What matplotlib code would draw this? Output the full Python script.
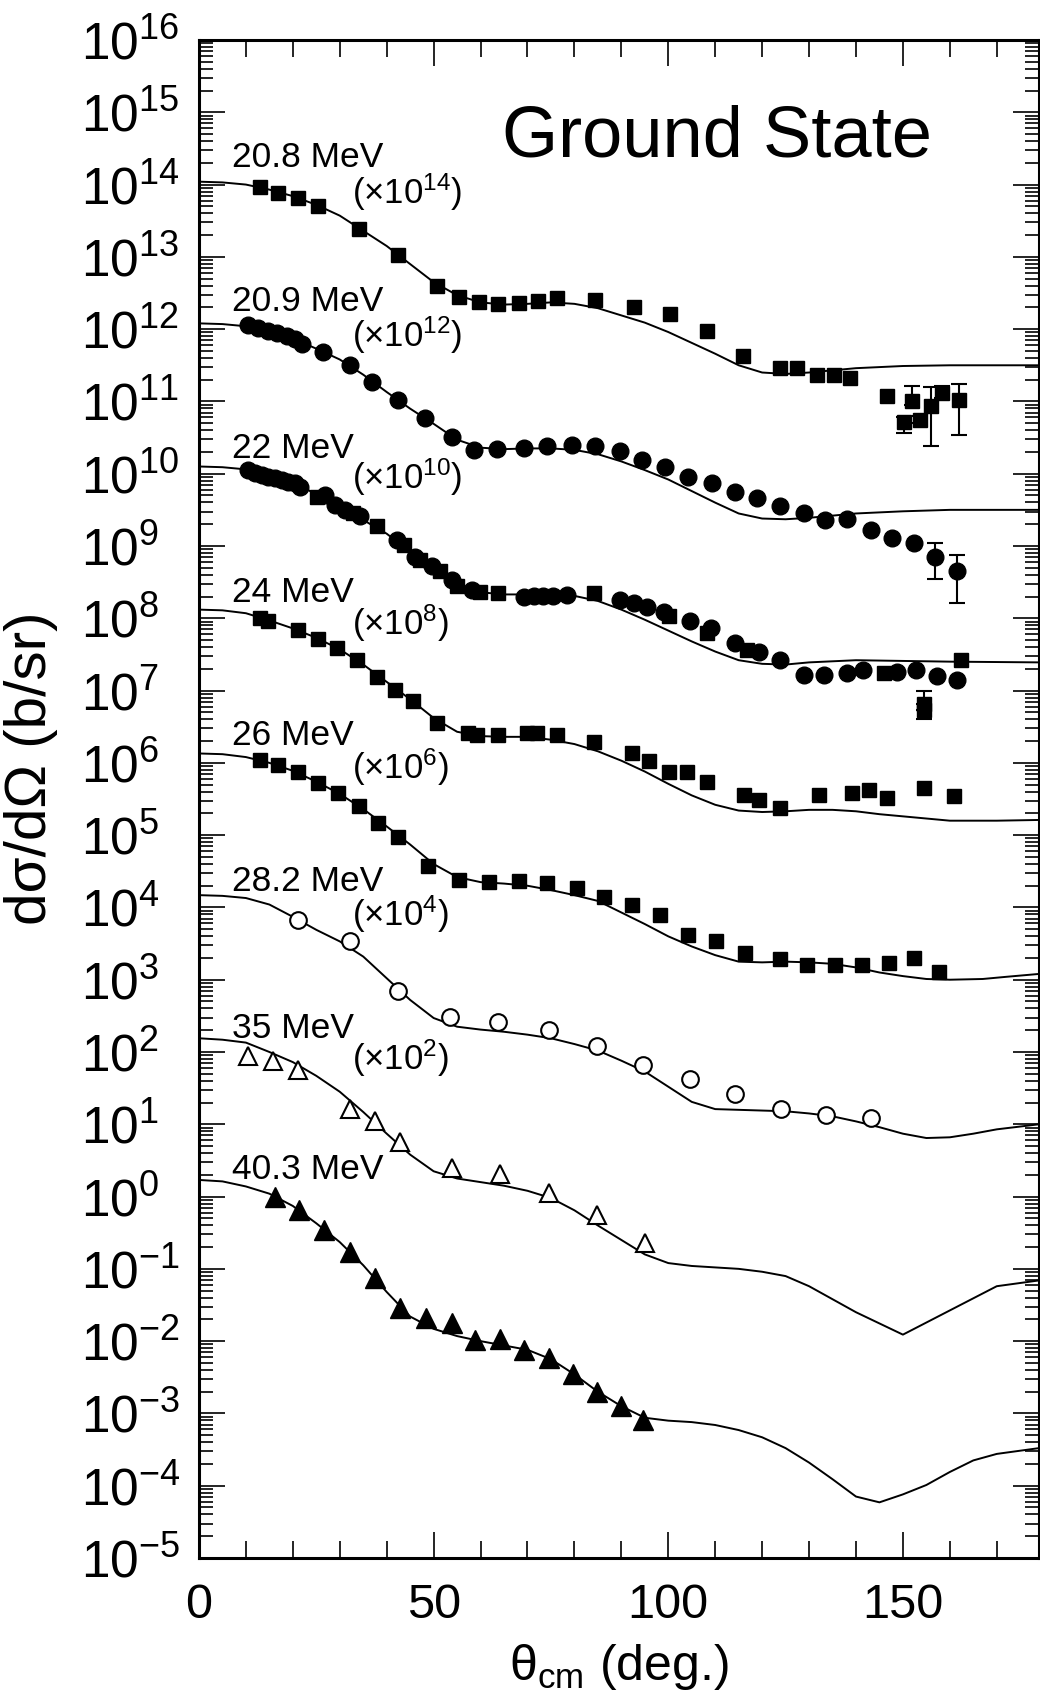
import matplotlib
matplotlib.use('Agg')
import matplotlib.pyplot as plt
import numpy as np
from matplotlib.ticker import FixedLocator, MultipleLocator, NullFormatter

plt.rcParams['font.family'] = ['Liberation Sans', 'DejaVu Sans']
plt.rcParams['mathtext.fontset'] = 'custom'
plt.rcParams['mathtext.rm'] = 'Liberation Sans'
plt.rcParams['mathtext.it'] = 'Liberation Sans:italic'
plt.rcParams['mathtext.bf'] = 'Liberation Sans:bold'

# data: angle (deg) and log10 of scaled cross section

# 20.8 MeV (x1e14), filled squares
a208 = [13.0, 16.9, 21.2, 25.4, 34.0, 42.5, 50.7, 55.3, 59.6, 63.8, 68.1, 72.3, 76.3, 84.4,
        92.6, 100.4, 108.3, 115.9, 123.9, 127.4, 131.7, 135.3, 138.8, 146.6]
v208 = [13.97, 13.89, 13.81, 13.71, 13.39, 13.03, 12.59, 12.45, 12.38, 12.35, 12.36, 12.39, 12.43, 12.40,
        12.31, 12.21, 11.97, 11.63, 11.46, 11.46, 11.37, 11.37, 11.32, 11.07]
# points with error bars at back angles
a208e = [150.2, 152.0, 153.7, 155.9, 158.4, 161.9]
v208e = [10.72, 11.00, 10.74, 10.93, 11.11, 11.02]
lo208e = [10.57, 10.95, 10.70, 10.38, 11.05, 10.53]
hi208e = [10.78, 11.21, 10.80, 11.20, 11.22, 11.24]
ca208 = [0, 5, 10, 15, 20, 25, 30, 35, 40, 45, 50, 55, 60, 65, 70, 75, 80, 85, 90, 95, 100,
         105, 110, 115, 120, 125, 130, 140, 150, 160, 179]
cv208 = [14.04, 14.03, 14.00, 13.93, 13.84, 13.72, 13.57, 13.36, 13.15, 12.90, 12.65, 12.47, 12.37,
         12.34, 12.35, 12.37, 12.35, 12.29, 12.19, 12.09, 11.96, 11.81, 11.66, 11.50, 11.40, 11.38,
         11.40, 11.46, 11.49, 11.50, 11.50]

# 20.9 MeV (x1e12), filled circles
a209 = [10.5, 12.6, 14.8, 16.6, 18.7, 20.5, 21.9, 26.5, 32.2, 36.8, 42.5, 48.2, 53.9, 58.5, 63.5,
        69.2, 74.1, 79.5, 84.4, 89.8, 94.4, 99.4, 104.3, 109.3, 114.3, 119.0, 123.9, 128.9, 133.5,
        138.1, 143.1, 147.7, 152.3]
v209 = [12.06, 12.01, 11.98, 11.94, 11.91, 11.86, 11.80, 11.69, 11.50, 11.27, 11.02, 10.77, 10.51,
        10.33, 10.34, 10.35, 10.38, 10.40, 10.38, 10.31, 10.19, 10.09, 9.96, 9.87, 9.75, 9.66, 9.55,
        9.45, 9.36, 9.38, 9.22, 9.11, 9.04]
a209e = [156.9, 161.6]
v209e = [8.85, 8.65]
lo209e = [8.54, 8.21]
hi209e = [9.04, 8.88]
ca209 = [0, 5, 10, 15, 20, 25, 30, 35, 40, 45, 50, 55, 60, 65, 70, 75, 80, 85, 90, 95, 100,
         105, 110, 115, 120, 125, 130, 140, 150, 160, 179]
cv209 = [12.08, 12.07, 12.04, 11.97, 11.87, 11.73, 11.58, 11.37, 11.13, 10.90, 10.69, 10.47, 10.36,
         10.34, 10.35, 10.35, 10.33, 10.27, 10.17, 10.05, 9.92, 9.76, 9.60, 9.45, 9.38, 9.37,
         9.39, 9.45, 9.48, 9.50, 9.50]

# 22 MeV (x1e10), circles and squares
a22c = [10.5, 11.9, 13.4, 14.8, 16.2, 17.6, 19.0, 20.5, 21.5, 26.9, 29.0, 31.1, 34.3, 42.2, 46.1,
        49.6, 53.9, 58.1, 69.2, 71.3, 73.4, 75.5, 78.4, 89.8, 92.6, 95.5, 99.0, 104.7, 109.0, 114.3,
        119.3, 123.9, 128.9, 133.1, 138.1, 141.6, 148.8, 152.7, 157.3, 161.5]
v22c = [10.05, 10.01, 9.98, 9.96, 9.94, 9.91, 9.89, 9.87, 9.82, 9.71, 9.57, 9.50, 9.41, 9.08, 8.85,
        8.72, 8.53, 8.39, 8.30, 8.31, 8.31, 8.31, 8.32, 8.25, 8.21, 8.16, 8.09, 7.96, 7.86, 7.66,
        7.54, 7.42, 7.21, 7.21, 7.24, 7.29, 7.26, 7.29, 7.20, 7.15]
a22s = [25.1, 32.9, 37.9, 43.6, 47.1, 51.4, 54.9, 59.9, 63.8, 84.1, 100.1, 108.3, 116.8, 145.9, 162.3]
v22s = [9.68, 9.45, 9.27, 9.02, 8.81, 8.65, 8.44, 8.37, 8.35, 8.35, 8.03, 7.79, 7.56, 7.24, 7.42]
a22e = [154.4, 154.4]
v22e = [6.82, 6.73]
lo22e = [6.82, 6.60]
hi22e = [6.99, 6.73]
ca22 = [0, 5, 10, 15, 20, 25, 30, 35, 40, 45, 50, 55, 60, 65, 70, 75, 80, 85, 90, 95, 100,
        105, 110, 115, 120, 125, 130, 140, 150, 160, 179]
cv22 = [10.10, 10.09, 10.06, 9.97, 9.87, 9.72, 9.53, 9.36, 9.17, 8.92, 8.69, 8.45, 8.36, 8.33,
        8.33, 8.33, 8.31, 8.24, 8.12, 7.98, 7.83, 7.68, 7.54, 7.42, 7.37, 7.36, 7.39, 7.42,
        7.41, 7.40, 7.39]

# 24 MeV (x1e8), filled squares
a24 = [13.0, 14.8, 21.2, 25.4, 29.4, 33.6, 37.9, 41.8, 45.7, 50.7, 57.4, 59.2, 63.8, 69.9, 72.0,
       76.3, 84.1, 92.3, 95.8, 100.1, 104.0, 108.3, 116.1, 119.3, 123.9, 132.1, 139.2, 142.7,
       146.6, 154.4, 160.9]
v24 = [8.00, 7.96, 7.84, 7.72, 7.59, 7.42, 7.19, 7.01, 6.85, 6.55, 6.41, 6.39, 6.39, 6.41, 6.41,
       6.39, 6.29, 6.13, 6.02, 5.88, 5.87, 5.74, 5.56, 5.49, 5.37, 5.56, 5.58, 5.63, 5.52, 5.65, 5.54]
ca24 = [0, 5, 10, 15, 20, 25, 30, 35, 40, 45, 50, 55, 60, 65, 70, 75, 80, 85, 90, 95, 100,
        105, 110, 115, 120, 125, 130, 135, 140, 145, 150, 155, 160, 170, 179]
cv24 = [8.12, 8.11, 8.07, 7.97, 7.86, 7.73, 7.57, 7.36, 7.12, 6.88, 6.62, 6.43, 6.37, 6.36, 6.36,
        6.32, 6.26, 6.16, 6.03, 5.88, 5.71, 5.55, 5.42, 5.34, 5.32, 5.33, 5.35, 5.35, 5.33, 5.29,
        5.26, 5.23, 5.20, 5.20, 5.21]

# 26 MeV (x1e6), filled squares
a26 = [13.0, 16.9, 21.2, 25.4, 29.7, 34.0, 38.2, 42.5, 48.9, 55.3, 61.7, 68.1, 74.1, 80.5, 86.2,
       92.3, 98.3, 104.3, 110.2, 116.4, 123.9, 129.6, 135.5, 141.3, 147.0, 152.3, 157.6]
v26 = [6.04, 5.97, 5.88, 5.72, 5.58, 5.40, 5.17, 4.98, 4.57, 4.38, 4.35, 4.36, 4.34, 4.27, 4.15,
       4.04, 3.90, 3.62, 3.54, 3.37, 3.28, 3.21, 3.21, 3.21, 3.23, 3.30, 3.11]
ca26 = [0, 5, 10, 15, 20, 25, 30, 35, 40, 45, 50, 55, 60, 65, 70, 75, 80, 85, 90, 95, 100,
        105, 110, 115, 120, 125, 130, 135, 140, 145, 150, 155, 160, 167, 172, 179]
cv26 = [6.13, 6.12, 6.08, 6.00, 5.89, 5.74, 5.57, 5.36, 5.12, 4.87, 4.60, 4.42, 4.35, 4.33, 4.30,
        4.24, 4.17, 4.09, 3.93, 3.77, 3.60, 3.46, 3.34, 3.25, 3.24, 3.25, 3.24, 3.22, 3.17, 3.10,
        3.05, 3.01, 3.00, 3.01, 3.04, 3.08]

# 28.2 MeV (x1e4), open circles
a282 = [21.2, 32.2, 42.5, 53.5, 63.8, 74.5, 84.8, 94.6, 104.7, 114.3, 124.0, 133.7, 143.1]
v282 = [3.83, 3.53, 2.84, 2.49, 2.42, 2.31, 2.08, 1.82, 1.62, 1.42, 1.21, 1.13, 1.09]
ca282 = [0, 5, 10, 15, 20, 25, 30, 35, 40, 45, 50, 55, 60, 65, 70, 75, 80, 85, 90, 95, 100,
         105, 110, 115, 120, 125, 130, 135, 140, 145, 150, 155, 160, 165, 170, 179]
cv282 = [4.17, 4.16, 4.13, 4.04, 3.87, 3.69, 3.53, 3.32, 3.02, 2.72, 2.47, 2.35, 2.31, 2.28, 2.24,
         2.19, 2.11, 2.02, 1.88, 1.73, 1.52, 1.31, 1.21, 1.20, 1.19, 1.18, 1.15, 1.11, 1.04, 0.96,
         0.87, 0.81, 0.82, 0.87, 0.93, 1.00]

# 35 MeV (x1e2), open triangles
a35 = [10.5, 15.8, 21.2, 32.2, 37.5, 42.9, 53.9, 64.2, 74.5, 84.8, 95.1]
v35 = [1.94, 1.87, 1.75, 1.21, 1.04, 0.76, 0.39, 0.31, 0.05, -0.25, -0.64]
ca35 = [0, 5, 10, 15, 20, 25, 30, 35, 40, 45, 50, 55, 60, 65, 70, 75, 80, 85, 90, 95, 100,
        105, 110, 115, 120, 125, 130, 140, 150, 170, 179]
cv35 = [2.19, 2.17, 2.13, 2.00, 1.86, 1.67, 1.45, 1.17, 0.87, 0.58, 0.35, 0.25, 0.20, 0.15, 0.08,
        -0.02, -0.19, -0.40, -0.60, -0.80, -0.92, -0.96, -0.98, -1.00, -1.04, -1.10, -1.24, -1.60,
        -1.91, -1.24, -1.16]

# 40.3 MeV (x1), filled triangles
a403 = [16.2, 21.3, 26.7, 32.2, 37.5, 42.9, 48.4, 53.9, 58.8, 64.2, 69.3, 74.5, 79.8, 84.8, 89.9, 94.7]
v403 = [0.00, -0.18, -0.46, -0.76, -1.13, -1.54, -1.68, -1.75, -1.98, -1.97, -2.12, -2.23, -2.46,
        -2.70, -2.90, -3.09]
ca403 = [0, 5, 10, 15, 20, 25, 30, 35, 40, 45, 50, 55, 60, 65, 70, 75, 80, 85, 90, 95, 100,
         105, 110, 115, 120, 125, 130, 135, 140, 145, 150, 155, 160, 165, 170, 179]
cv403 = [0.23, 0.21, 0.14, 0.04, -0.13, -0.37, -0.63, -0.95, -1.32, -1.66, -1.83, -1.93, -2.00,
         -2.06, -2.12, -2.25, -2.46, -2.70, -2.90, -3.06, -3.10, -3.12, -3.16, -3.23, -3.33, -3.48,
         -3.68, -3.91, -4.15, -4.23, -4.12, -3.99, -3.81, -3.65, -3.56, -3.48]

# labels: text, angle, log10 position
energy_labels = ['20.8 MeV', '20.9 MeV', '22 MeV', '24 MeV', '26 MeV', '28.2 MeV', '35 MeV', '40.3 MeV']
energy_y = [14.37, 12.38, 10.35, 8.36, 6.38, 4.36, 2.33, 0.38]
scale_labels = [14, 12, 10, 8, 6, 4, 2]
scale_y = [13.90, 11.92, 9.95, 7.93, 5.94, 3.90, 1.92]


def p(v):
    return 10.0 ** np.asarray(v, dtype=float)


fig = plt.figure(figsize=(10.4, 16.97), dpi=100)
ax = fig.add_axes([199 / 1040, (1697 - 1558) / 1697, 840 / 1040, 1518 / 1697])
ax.set_yscale('log')
ax.set_xlim(0, 179)
ax.set_ylim(1e-5, 1e16)

lw = 1.4
for ca, cv in [(ca208, cv208), (ca209, cv209), (ca22, cv22), (ca24, cv24), (ca26, cv26),
               (ca282, cv282), (ca35, cv35), (ca403, cv403)]:
    ax.plot(ca, p(cv), color='black', lw=lw, zorder=2)

sq = dict(marker='s', ms=10.5, color='black', ls='none', zorder=3)
ci = dict(marker='o', ms=12, color='black', ls='none', zorder=3)

ax.plot(a208, p(v208), **sq)
ax.plot(a209, p(v209), **ci)
ax.plot(a22c, p(v22c), **ci)
ax.plot(a22s, p(v22s), **sq)
ax.plot(a24, p(v24), **sq)
ax.plot(a26, p(v26), **sq)
ax.plot(a282, p(v282), marker='o', ms=12, mfc='white', mec='black', mew=1.5, ls='none', zorder=3)
ax.plot(a35, p(v35), marker='^', ms=13, mfc='white', mec='black', mew=1.5, ls='none', zorder=3)
ax.plot(a403, p(v403), marker='^', ms=14, color='black', ls='none', zorder=3)

for a, v, lo, hi, st in [(a208e, v208e, lo208e, hi208e, sq), (a209e, v209e, lo209e, hi209e, ci),
                         (a22e, v22e, lo22e, hi22e, sq)]:
    y = p(v)
    yerr = [y - p(lo), p(hi) - y]
    ax.errorbar(a, y, yerr=yerr, fmt='none', ecolor='black', elinewidth=1.5, capsize=6, capthick=1.5, zorder=3)
    ax.plot(a, y, **st)

for lab, yv in zip(energy_labels, energy_y):
    ax.text(7.0, 10 ** yv, lab, fontsize=25.5, va='center', ha='left')
for s, yv in zip(scale_labels, scale_y):
    ax.text(32.6, 10 ** yv, r'($\times$10$^{%d}$)' % s, fontsize=25, va='center', ha='left')

ax.text(64.5, 10 ** 14.64, 'Ground State', fontsize=52, va='center', ha='left')

# axes styling
for sp in ax.spines.values():
    sp.set_linewidth(2.2)

ax.xaxis.set_major_locator(FixedLocator([0, 50, 100, 150]))
ax.xaxis.set_minor_locator(MultipleLocator(10))
ax.set_xticklabels(['0', '50', '100', '150'])
ax.set_yticks(p(np.arange(-5, 17)))
ax.yaxis.set_minor_locator(FixedLocator([m * 10.0 ** e for e in range(-5, 16) for m in range(2, 10)]))
ax.yaxis.set_minor_formatter(NullFormatter())
ax.set_yticklabels([r'$10^{%d}$' % e for e in range(-5, 17)], ha='left')

ax.tick_params(axis='both', which='both', direction='in', top=True, right=True, width=1.2)
ax.tick_params(axis='x', which='major', length=19, labelsize=35, pad=18)
ax.tick_params(axis='x', which='minor', length=12)
ax.tick_params(axis='y', which='major', length=19, labelsize=37, pad=85)
ax.tick_params(axis='y', which='minor', length=10)

ax.set_xlabel('θ$_{\\rm cm}$ (deg.)', fontsize=36, labelpad=10)
ax.set_ylabel('dσ/dΩ (b/sr)', fontsize=42)
ax.yaxis.set_label_coords(-0.168, 0.52)

fig.savefig('out.png', dpi=100)
